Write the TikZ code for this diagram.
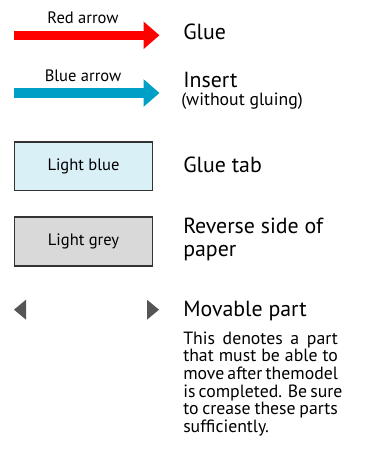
\documentclass[tikz,border=0pt]{standalone}
\usepackage{fontspec}
\setmainfont{PT Sans}
\usepackage{xcolor}
\usetikzlibrary{arrows.meta}
\definecolor{gluered}{RGB}{255,0,0}
\definecolor{insertblue}{RGB}{0,160,198}
\definecolor{tabblue}{RGB}{218,240,247}
\definecolor{backgrey}{RGB}{217,217,217}
\definecolor{markgrey}{RGB}{85,85,85}
\definecolor{edgegrey}{RGB}{51,51,51}

\begin{document}
\begin{tikzpicture}[x=0.75pt,y=-0.75pt]
			
			\tikzstyle{legendbox} = [draw=edgegrey,line width=1pt,minimum width=103.5pt,minimum height=36.5pt,inner sep=0pt,font=\fontsize{12.4}{14}\selectfont]
			\tikzstyle{sample} = [line width=7pt,-{Triangle[length=12pt,width=20pt]}]
			\tikzstyle{tag} = [inner sep=0pt,anchor=base,font=\fontsize{12.4}{14}\selectfont]
			\tikzstyle{meaning} = [inner sep=0pt,anchor=base west,font=\fontsize{16.4}{17}\selectfont]
			
			\useasboundingbox (0,0) rectangle (368,459);
			
			% Arrows
			\coordinate (redtail) at (14,35.3);
			\coordinate (redtip) at (159.5,35.3);
			\draw[sample,gluered] (redtail) -- (redtip);
			\node[tag] (redtag) at (83,24) {Red arrow};
			\node[meaning] (glue) at (183,39.3) {Glue};
			
			\coordinate (bluetail) at (14,93);
			\coordinate (bluetip) at (159.5,93);
			\draw[sample,insertblue] (bluetail) -- (bluetip);
			\node[tag] (bluetag) at (83,81.5) {Blue arrow};
			\node[meaning] (insert) at (183,87.3) {Insert};
			\node[meaning,font=\fontsize{13.3}{14}\selectfont] (nogluing) at (181,106) {(without gluing)};
			
			% Boxes
			\node[legendbox,fill=tabblue] (tabbox) at (83.5,166.5) {Light blue};
			\node[meaning] (gluetab) at (183,172.7) {Glue tab};
			
			\node[legendbox,fill=backgrey] (backbox) at (83.5,241.5) {Light grey};
			\node[meaning] (reverse) at (183,233.3) {Reverse side of};
			\node[meaning] (paper) at (183,256) {paper};
			
			% Movable part marks
			\fill[markgrey] (14,309.7) -- (26,299.7) -- (26,319.7) -- cycle;
			\fill[markgrey] (159,309.7) -- (147,299.7) -- (147,319.7) -- cycle;
			\node[meaning] (movable) at (183,316.7) {Movable part};
			
			\def\Para{116pt}
			\node[inner sep=0pt,anchor=north west,align=left,font=\fontsize{13.3}{13.2}\selectfont] (note) at (183,331.5) {%
				\makebox[\Para][s]{This denotes a part}\\
				\makebox[\Para][s]{that must be able to}\\
				\makebox[\Para][s]{move after themodel}\\
				\makebox[\Para][s]{is completed. Be sure}\\
				\makebox[\Para][s]{to crease these parts}\\
				sufficiently.};
			
		\end{tikzpicture}
\end{document}
